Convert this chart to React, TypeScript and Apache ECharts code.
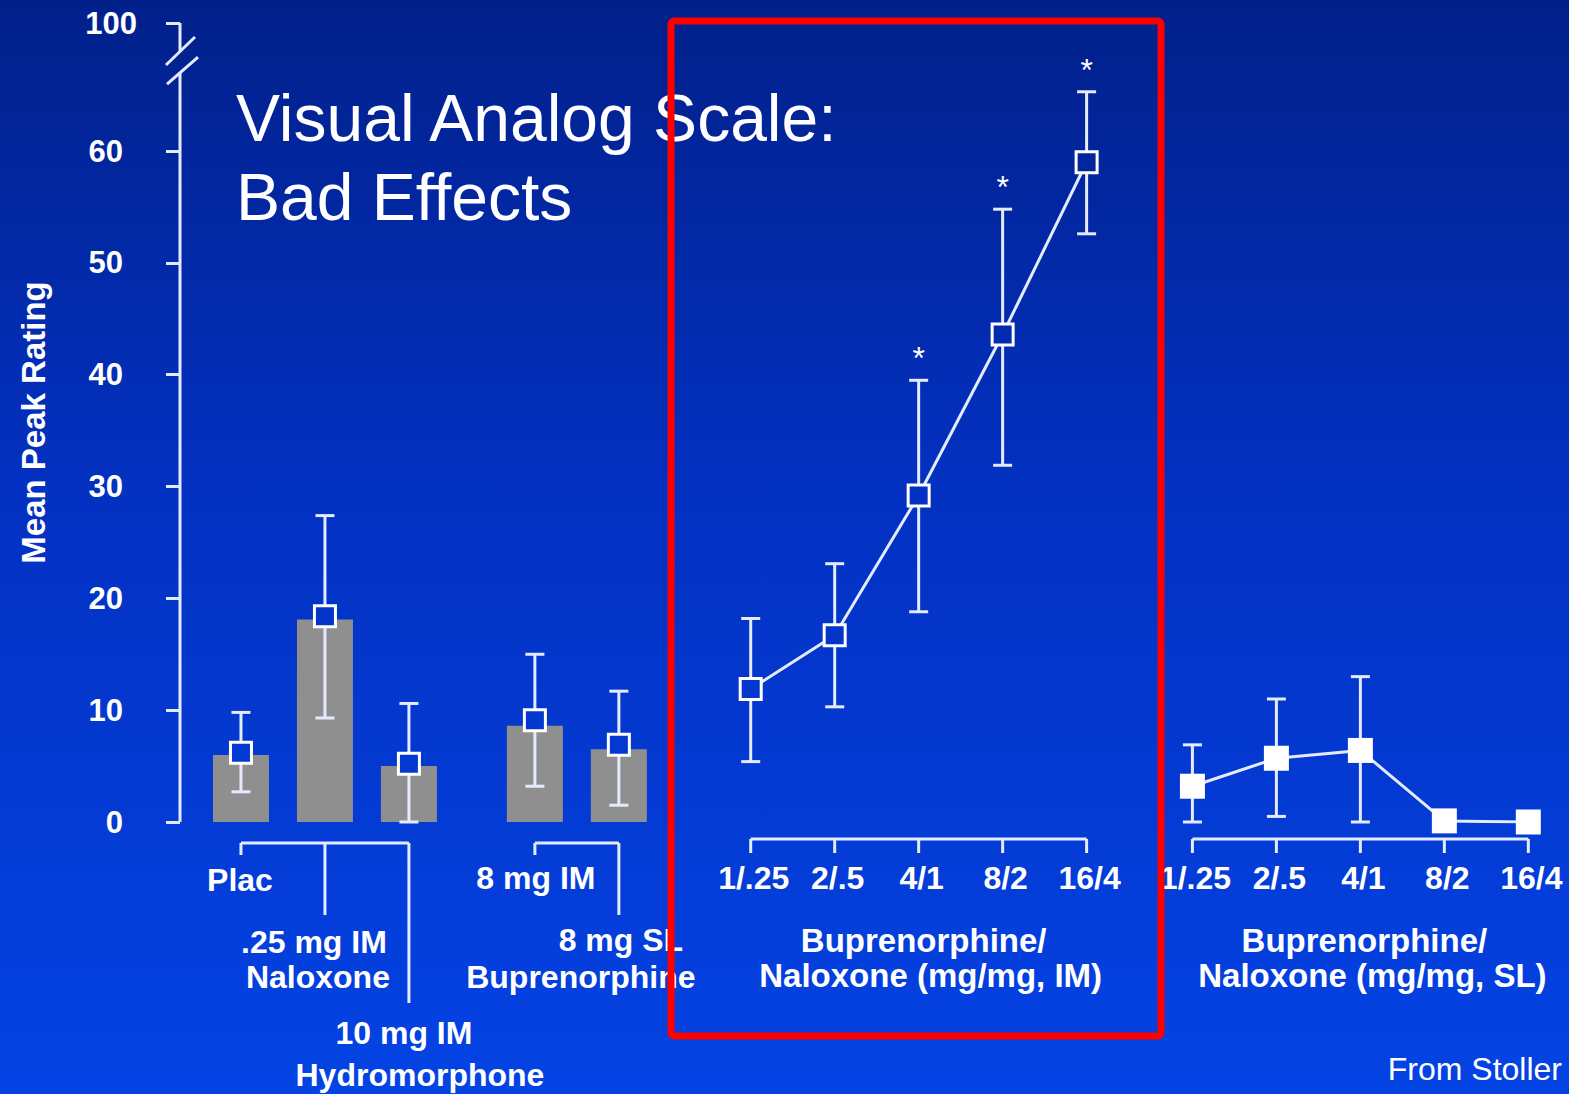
import React, { useEffect, useRef } from "react";
import * as echarts from "echarts";

// ---------------- data ----------------
const barCategories = ["Plac", ".25 mg IM Naloxone", "10 mg IM Hydromorphone", "8 mg IM Buprenorphine", "8 mg SL Buprenorphine"];
const barHeights = [6.0, 18.1, 5.0, 8.6, 6.5];
const barMeans = [6.2, 18.4, 5.2, 9.1, 6.9];
const barErrLow = [2.7, 9.3, 0.0, 3.2, 1.5];
const barErrHigh = [9.8, 27.4, 10.6, 15.0, 11.7];

const doseLabels = ["1/.25", "2/.5", "4/1", "8/2", "16/4"];
const imMeans = [11.9, 16.7, 29.2, 43.6, 59.0];
const imErrLow = [5.4, 10.3, 18.8, 31.9, 52.6];
const imErrHigh = [18.2, 23.1, 39.5, 54.8, 65.3];
const imSignificant = [false, false, true, true, true];

const slMeans = [3.2, 5.7, 6.4, 0.1, 0.0];
const slErrLow: (number | null)[] = [0.0, 0.5, 0.0, null, null];
const slErrHigh: (number | null)[] = [6.9, 11.0, 13.0, null, null];

const yTickValues = [0, 10, 20, 30, 40, 50, 60];
const yBreakLabel = "100";
const yAxisName = "Mean Peak Rating";
const titleLines = ["Visual Analog Scale:", "Bad Effects"];
const imGroupLabel = ["Buprenorphine/", "Naloxone (mg/mg, IM)"];
const slGroupLabel = ["Buprenorphine/", "Naloxone (mg/mg, SL)"];
const sourceNote = "From Stoller";

// ---------------- layout ----------------
const W = 1569;
const H = 1094;
const GRID_LEFT = 180;
const GRID_RIGHT = 18;
const GRID_TOP = 23;
const GRID_BOTTOM = 272;
const X_MIN = -0.726;
const X_MAX = 15.6;
const Y_TOP = 71.45; // axis position of the "100" tick (above the break)
const BREAK_VALUE = 67.96;
const barSlots = [0, 1, 2, 3.5, 4.5];
const IM_START = 6.07;
const SL_START = 11.33;
const imSlots = doseLabels.map((_, i) => IM_START + i);
const slSlots = doseLabels.map((_, i) => SL_START + i);

const FONT = "'Liberation Sans', Arial, Helvetica, sans-serif";
const LINE = "#e4ebff";
const WHITE = "#ffffff";

const BG_STOPS: [number, number[]][] = [
  [0, [1, 32, 138]],
  [0.45, [3, 49, 194]],
  [1, [4, 67, 228]],
];
function bgAt(py: number): string {
  const f = Math.max(0, Math.min(1, py / H));
  for (let i = 0; i < BG_STOPS.length - 1; i++) {
    const [a, ca] = BG_STOPS[i];
    const [b, cb] = BG_STOPS[i + 1];
    if (f >= a && f <= b) {
      const t = (f - a) / (b - a);
      const c = ca.map((v, k) => Math.round(v + (cb[k] - v) * t));
      return `rgb(${c[0]},${c[1]},${c[2]})`;
    }
  }
  return "rgb(4,67,228)";
}
const valueToPy = (v: number) => GRID_TOP + (1 - v / Y_TOP) * (H - GRID_TOP - GRID_BOTTOM);
const bgCss = `linear-gradient(to bottom, ${BG_STOPS.map(([s, c]) => `rgb(${c.join(",")}) ${s * 100}%`).join(", ")})`;

export default function App() {
  const ref = useRef<HTMLDivElement>(null);

  useEffect(() => {
    if (!ref.current) return;
    const chart = echarts.init(ref.current, null, { renderer: "svg" });

    const errData: number[][] = [];
    barSlots.forEach((x, i) => errData.push([x, barErrLow[i], barErrHigh[i], 0]));
    imSlots.forEach((x, i) => errData.push([x, imErrLow[i], imErrHigh[i], imSignificant[i] ? 1 : 0]));
    slSlots.forEach((x, i) => {
      const lo = slErrLow[i];
      const hi = slErrHigh[i];
      if (lo != null && hi != null) errData.push([x, lo, hi, 0]);
    });

    const renderErr = (params: any, api: any) => {
      const x = api.value(0);
      const lo = api.coord([x, api.value(1)]);
      const hi = api.coord([x, api.value(2)]);
      const cap = 9.5;
      const st = { stroke: LINE, lineWidth: 3 };
      const children: any[] = [
        { type: "line", shape: { x1: lo[0], y1: lo[1], x2: hi[0], y2: hi[1] }, style: st },
        { type: "line", shape: { x1: hi[0] - cap, y1: hi[1], x2: hi[0] + cap, y2: hi[1] }, style: st },
        { type: "line", shape: { x1: lo[0] - cap, y1: lo[1], x2: lo[0] + cap, y2: lo[1] }, style: st },
      ];
      if (api.value(3) === 1) {
        children.push({
          type: "text",
          x: hi[0],
          y: hi[1] - 22,
          style: { text: "*", fill: WHITE, font: `32px ${FONT}`, align: "center", verticalAlign: "middle" },
        });
      }
      return { type: "group", children };
    };

    const option: any = {
      animation: false,
      backgroundColor: "transparent",
      grid: { left: GRID_LEFT, right: GRID_RIGHT, top: GRID_TOP, bottom: GRID_BOTTOM, containLabel: false },
      xAxis: { type: "value", min: X_MIN, max: X_MAX, show: false },
      yAxis: {
        type: "value",
        min: 0,
        max: Y_TOP,
        axisLine: { show: false, onZero: false },
        splitLine: { show: false },
        axisTick: {
          show: true,
          length: 14,
          customValues: [...yTickValues, Y_TOP],
          lineStyle: { color: LINE, width: 3 },
        },
        axisLabel: {
          customValues: yTickValues,
          color: WHITE,
          fontWeight: "bold",
          fontSize: 31,
          fontFamily: FONT,
          margin: 57,
        },
        name: yAxisName,
        nameLocation: "middle",
        nameRotate: 90,
        nameGap: 130,
        nameTextStyle: { color: WHITE, fontWeight: "bold", fontSize: 33, fontFamily: FONT },
      },
      series: [
        {
          type: "bar",
          name: "groups",
          data: barSlots.map((x, i) => [x, barHeights[i]]),
          barWidth: 56,
          itemStyle: { color: "#8f8f8f" },
          z: 2,
          silent: true,
        },
        {
          type: "custom",
          name: "error",
          data: errData,
          renderItem: renderErr,
          encode: { x: 0, y: [1, 2] },
          z: 3,
          silent: true,
        },
        {
          type: "line",
          name: "IM",
          data: imSlots.map((x, i) => ({ value: [x, imMeans[i]], itemStyle: { color: bgAt(valueToPy(imMeans[i])) } })),
          symbol: "rect",
          symbolSize: 21,
          showAllSymbol: true,
          lineStyle: { color: LINE, width: 3 },
          itemStyle: { borderColor: WHITE, borderWidth: 3, opacity: 1 },
          z: 4,
          silent: true,
        },
        {
          type: "line",
          name: "SL",
          data: slSlots.map((x, i) => [x, slMeans[i]]),
          symbol: "rect",
          symbolSize: 25,
          showAllSymbol: true,
          lineStyle: { color: LINE, width: 3 },
          itemStyle: { color: WHITE, opacity: 1 },
          z: 4,
          silent: true,
        },
        {
          type: "scatter",
          name: "means",
          data: barSlots.map((x, i) => ({ value: [x, barMeans[i]], itemStyle: { color: bgAt(valueToPy(barMeans[i])) } })),
          symbol: "rect",
          symbolSize: 21,
          itemStyle: { borderColor: WHITE, borderWidth: 3, opacity: 1 },
          z: 5,
          silent: true,
        },
      ],
    };
    chart.setOption(option);

    // ---------- decorations positioned through the chart's own scales ----------
    const p = (x: number, y: number) => chart.convertToPixel({ gridIndex: 0 }, [x, y]) as number[];
    const [axisX, y0] = p(X_MIN, 0);
    const yTop = p(X_MIN, Y_TOP)[1];
    const yBreak = p(X_MIN, BREAK_VALUE)[1];
    const lineSt = { stroke: LINE, lineWidth: 3 };
    const txt = (text: string, x: number, y: number, size = 32, bold = true, align = "center", z = 10) => ({
      type: "text",
      x,
      y,
      z,
      style: {
        text,
        fill: WHITE,
        font: `${bold ? "bold " : ""}${size}px ${FONT}`,
        align,
        verticalAlign: "middle",
      },
    });
    const seg = (x1: number, y1: number, x2: number, y2: number) => ({
      type: "line",
      z: 10,
      shape: { x1, y1, x2, y2 },
      style: lineSt,
    });

    const g: any[] = [];
    // broken y axis
    g.push(seg(axisX, y0, axisX, yBreak + 11));
    g.push(seg(axisX, yTop, axisX, yBreak - 11));
    g.push(seg(axisX - 14, yBreak + 3, axisX + 15, yBreak - 25));
    g.push(seg(axisX - 13, yBreak + 22, axisX + 18, yBreak - 5));
    g.push(txt(yBreakLabel, axisX - 43, yTop, 31, true, "right"));

    // bracket for the bar groups
    const xs = (s: number) => p(s, 0)[0];
    const bracketY = y0 + 21;
    const groupA = [0, 1, 2];
    const groupATicks = [12, 72, 160];
    g.push(seg(xs(barSlots[0]), bracketY, xs(barSlots[2]), bracketY));
    groupA.forEach((k, j) => g.push(seg(xs(barSlots[k]), bracketY, xs(barSlots[k]), bracketY + groupATicks[j])));
    const groupB = [3, 4];
    const groupBTicks = [12, 72];
    g.push(seg(xs(barSlots[3]), bracketY, xs(barSlots[4]), bracketY));
    groupB.forEach((k, j) => g.push(seg(xs(barSlots[k]), bracketY, xs(barSlots[k]), bracketY + groupBTicks[j])));

    // bar group labels (split into display lines)
    const barLabelLines: [string, number, number][][] = [
      [["Plac", -1, 58]],
      [[".25 mg IM", -11, 120], ["Naloxone", -7, 155]],
      [["10 mg IM", -5, 211], ["Hydromorphone", 11, 253]],
      [["8 mg IM", 1, 56]],
      [["8 mg SL", 2, 118], ["Buprenorphine", -38, 155]],
    ];
    barLabelLines.forEach((lines, i) =>
      lines.forEach(([t, dx, dy]) => g.push(txt(t, xs(barSlots[i]) + dx, y0 + dy)))
    );
    void barCategories;

    // dose brackets
    const doseBracket = (slots: number[], label: string[], dx: number[]) => {
      const by = y0 + 17;
      g.push(seg(xs(slots[0]), by, xs(slots[slots.length - 1]), by));
      slots.forEach((s, i) => {
        g.push(seg(xs(s), by, xs(s), by + 14));
        g.push(txt(doseLabels[i], xs(s) + 3, y0 + 56));
      });
      const mid = xs(slots[2]);
      g.push(txt(label[0], mid + dx[0], y0 + 118, 33));
      g.push(txt(label[1], mid + dx[1], y0 + 153, 33));
    };
    doseBracket(imSlots, imGroupLabel, [5, 12]);
    doseBracket(slSlots, slGroupLabel, [4, 12]);

    // title
    g.push(txt(titleLines[0], 236, 118, 66, false, "left", 20));
    g.push(txt(titleLines[1], 236, 197, 66, false, "left", 20));

    // source note
    g.push(txt(sourceNote, 1562, 1069, 32, false, "right"));

    // red highlight box
    g.push({
      type: "rect",
      z: 100,
      shape: { x: 671, y: 21, width: 490, height: 1015, r: 3 },
      style: { fill: "none", stroke: "#ff0000", lineWidth: 7 },
    });

    chart.setOption({ graphic: { elements: g } });

    return () => chart.dispose();
  }, []);

  return (
    <div
      ref={ref}
      style={{ position: "fixed", left: 0, top: 0, width: W, height: H, background: bgCss }}
    />
  );
}
